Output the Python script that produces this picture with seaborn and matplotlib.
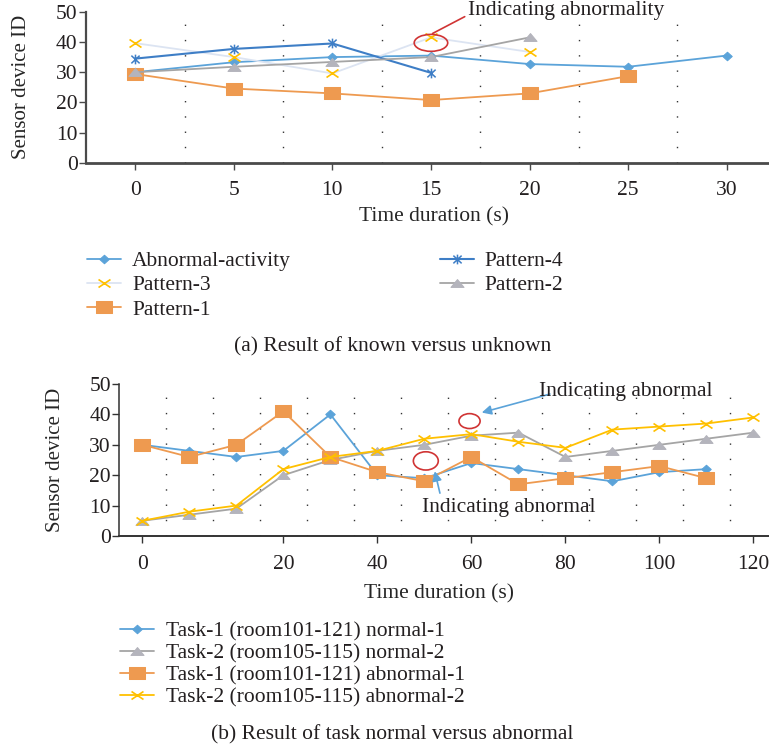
import numpy as np
import matplotlib
matplotlib.use("Agg")
import matplotlib.pyplot as plt
from matplotlib.path import Path
from matplotlib.patches import Ellipse
import seaborn as sns

sns.set_theme(style="ticks")
plt.rcParams["font.family"] = ["Liberation Serif", "DejaVu Serif"]
plt.rcParams["text.color"] = "#231F20"

# ---- data, panel (a): known versus unknown ----
time_a = [0, 5, 10, 15, 20, 25, 30]
abnormal_activity = [30, 33.3, 35, 35.5, 32.7, 31.8, 35.5]
pattern_3 = [39.6, 35, 29.6, 41.5, 36.7]
pattern_1 = [29.4, 24.6, 23, 20.8, 23, 28.7]
pattern_4 = [34.5, 37.7, 39.5, 29.8]
pattern_2 = [30, 31.8, 33.4, 35, 41.5]

# ---- data, panel (b): task normal versus abnormal (category axis) ----
time_b = [0, 7, 13, 20, 30, 40, 50, 60, 70, 80, 90, 100, 110, 120]
task1_normal = [30, 28, 26, 28, 40, 20, 19, 24, 22, 20, 18, 21, 22]
task2_normal = [5, 7, 9, 20, 25, 28, 30, 33, 34, 26, 28, 30, 32, 34]
task1_abnormal = [30, 26, 30, 41, 26, 21, 18, 26, 17, 19, 21, 23, 19]
task2_abnormal = [5, 8, 10, 22, 26, 28, 32, 33.5, 31, 29, 35, 36, 37, 39]

C_LBLUE = "#5BA3D9"
C_BLUE = "#3E7EC6"
C_PALE = "#DCE4F2"
C_YEL = "#FFC000"
C_ORA = "#EE9A50"
C_GRAY = "#A5A5A5"
C_TRI = "#B4B4BC"
C_RED = "#D03434"
C_AX = "#4A4A4A"
FS = 15.5

# custom Excel-like markers
M, L = Path.MOVETO, Path.LINETO
rect = Path([(-1, -0.65), (1, -0.65), (1, 0.65), (-1, 0.65), (-1, -0.65)], closed=True)
tri = Path([(-1, -0.6), (1, -0.6), (0, 0.6), (-1, -0.6)], closed=True)
diam = Path([(-1, 0), (0, -0.9), (1, 0), (0, 0.9), (-1, 0)], closed=True)
xmark = Path([(-1, -0.67), (1, 0.67), (-1, 0.67), (1, -0.67)], [M, L, M, L])
star = Path([(-0.85, -0.8), (0.85, 0.8), (-0.85, 0.8), (0.85, -0.8), (0, -1), (0, 1)],
            [M, L, M, L, M, L])

W, H = 769, 752
fig = plt.figure(figsize=(W / 100, H / 100), dpi=100)


def px_axes(left, top, right, bottom):
    return fig.add_axes([left / W, 1 - bottom / H, (right - left) / W, (bottom - top) / H])


def style_axes(ax, color, lw):
    sns.despine(ax=ax)
    for s in ["left", "bottom"]:
        ax.spines[s].set_color(color)
    ax.spines["left"].set_linewidth(lw * 0.8)
    ax.spines["bottom"].set_linewidth(lw)
    ax.tick_params(axis="both", colors=color, labelcolor="#231F20", labelsize=FS,
                   length=5, width=1)
    ax.tick_params(axis="y", pad=1)
    ax.tick_params(axis="x", pad=8)


# ================= panel (a) =================
ax1 = px_axes(86, 11.7, 769, 163)
series_a = [
    ("Abnormal-activity", abnormal_activity, dict(color=C_LBLUE, marker=diam, ms=6.8,
                                                 mfc=C_LBLUE, mec=C_LBLUE, lw=1.3)),
    ("Pattern-3", pattern_3, dict(color=C_PALE, marker=xmark, ms=8.6, mfc="none",
                                  mec=C_YEL, mew=1.2, lw=1.3)),
    ("Pattern-1", pattern_1, dict(color=C_ORA, marker=rect, ms=12.2, mfc=C_ORA,
                                  mec=C_ORA, lw=1.3)),
    ("Pattern-4", pattern_4, dict(color=C_BLUE, marker=star, ms=7, mfc="none",
                                  mec=C_BLUE, mew=1.1, lw=1.5)),
    ("Pattern-2", pattern_2, dict(color=C_GRAY, marker=tri, ms=9.4, mfc=C_TRI,
                                  mec=C_TRI, lw=1.3)),
]
for name, vals, kw in series_a:
    sns.lineplot(x=time_a[:len(vals)], y=vals, ax=ax1, label=name, errorbar=None,
                 legend=False, **kw)

ax1.set_xlim(-2.5, 32.15)
ax1.set_ylim(0, 50)
ax1.set_xticks(time_a)
ax1.set_yticks(np.arange(0, 51, 10))
mid_a = np.array(time_a[:-1]) + 2.5
ax1.vlines(mid_a, 0, 50, colors="#333333", linestyles=(0, (1, 10)), lw=1, zorder=0)
style_axes(ax1, C_AX, 2.0)
ax1.set_ylabel("Sensor device ID", fontsize=15)
ax1.yaxis.set_label_coords(-0.08, 0.5)
ax1.set_xlabel("Time duration (s)", fontsize=FS)
ax1.xaxis.set_label_coords(0.51, -0.29)

# annotation for the abnormal point of pattern-3
ax1.add_patch(Ellipse((time_a[3], pattern_3[3] - 1.8), 1.7, 5.6, fill=False,
                      ec=C_RED, lw=1.2, clip_on=False, zorder=5))
ax1.annotate("Indicating abnormality", xy=(15.08, 42.8), xytext=(16.88, 50.5),
             fontsize=FS, va="center", ha="left", annotation_clip=False,
             arrowprops=dict(arrowstyle="-", color=C_RED, lw=1.2,
                             shrinkA=0, shrinkB=0, relpos=(0, 0.25)))

h1, l1 = ax1.get_legend_handles_labels()
fig.legend(h1, l1, ncol=2, loc="upper left", bbox_to_anchor=(87 / W, 1 - 251 / H),
           frameon=False, fontsize=FS, handlelength=1.6, handletextpad=0.5,
           columnspacing=6.9, labelspacing=0.2, borderpad=0, borderaxespad=0)
fig.text(393 / W, 1 - 347 / H, "(a) Result of known versus unknown", fontsize=FS,
         ha="center", va="center")

# ================= panel (b) =================
ax2 = px_axes(119.3, 384, 769, 536)
pos_b = np.arange(len(time_b))
series_b = [
    ("Task-1 (room101-121) normal-1", task1_normal,
     dict(color=C_LBLUE, marker=diam, ms=6.8, mfc=C_LBLUE, mec=C_LBLUE, lw=1.3)),
    ("Task-2 (room105-115) normal-2", task2_normal,
     dict(color=C_GRAY, marker=tri, ms=9.4, mfc=C_TRI, mec=C_TRI, lw=1.3)),
    ("Task-1 (room101-121) abnormal-1", task1_abnormal,
     dict(color=C_ORA, marker=rect, ms=12.2, mfc=C_ORA, mec=C_ORA, lw=1.3)),
    ("Task-2 (room105-115) abnormal-2", task2_abnormal,
     dict(color=C_YEL, marker=xmark, ms=8.6, mfc="none", mec=C_YEL, mew=1.2, lw=1.3)),
]
for name, vals, kw in series_b:
    sns.lineplot(x=pos_b[:len(vals)], y=vals, ax=ax2, label=name, errorbar=None,
                 legend=False, **kw)

ax2.set_xlim(-0.49, 13.33)
ax2.set_ylim(0, 50)
tick_pos = [i for i, t in enumerate(time_b) if t % 20 == 0]
ax2.set_xticks(tick_pos)
ax2.set_xticklabels([str(time_b[i]) for i in tick_pos])
ax2.set_yticks(np.arange(0, 51, 10))
ax2.vlines(pos_b[:-1] + 0.5, 0, 50, colors="#333333", linestyles=(0, (1, 10)), lw=1,
           zorder=0)
style_axes(ax2, "#333333", 1.4)
ax2.tick_params(axis="x", pad=9)
ax2.set_ylabel("Sensor device ID", fontsize=15)
ax2.yaxis.set_label_coords(-0.083, 0.5)
ax2.set_xlabel("Time duration (s)", fontsize=FS)
ax2.xaxis.set_label_coords(0.492, -0.315)

# annotations
ax2.add_patch(Ellipse((6.96, 37.8), 0.45, 4.9, fill=False, ec=C_RED, lw=1.2, zorder=5))
ax2.add_patch(Ellipse((6.03, 24.7), 0.53, 6.0, fill=False, ec=C_RED, lw=1.2, zorder=5))
ax2.annotate("", xy=(7.22, 40.6), xytext=(8.67, 46.7), annotation_clip=False,
             arrowprops=dict(arrowstyle="-|>", color=C_LBLUE, lw=1.2,
                             mutation_scale=14, shrinkA=0, shrinkB=0))
ax2.text(8.43, 47.5, "Indicating abnormal", fontsize=FS, va="center", ha="left")
ax2.annotate("", xy=(6.22, 21.3), xytext=(6.33, 14.1), annotation_clip=False,
             arrowprops=dict(arrowstyle="-|>", color=C_LBLUE, lw=1.2,
                             mutation_scale=14, shrinkA=0, shrinkB=0))
ax2.text(5.945, 9.3, "Indicating abnormal", fontsize=FS, va="center", ha="left")

h2, l2 = ax2.get_legend_handles_labels()
fig.legend(h2, l2, ncol=1, loc="upper left", bbox_to_anchor=(120 / W, 1 - 621 / H),
           frameon=False, fontsize=FS, handlelength=1.6, handletextpad=0.55,
           labelspacing=0.1, borderpad=0, borderaxespad=0)
fig.text(392 / W, 1 - 735 / H, "(b) Result of task normal versus abnormal",
         fontsize=FS, ha="center", va="center")

fig.savefig("out.png", dpi=100)
